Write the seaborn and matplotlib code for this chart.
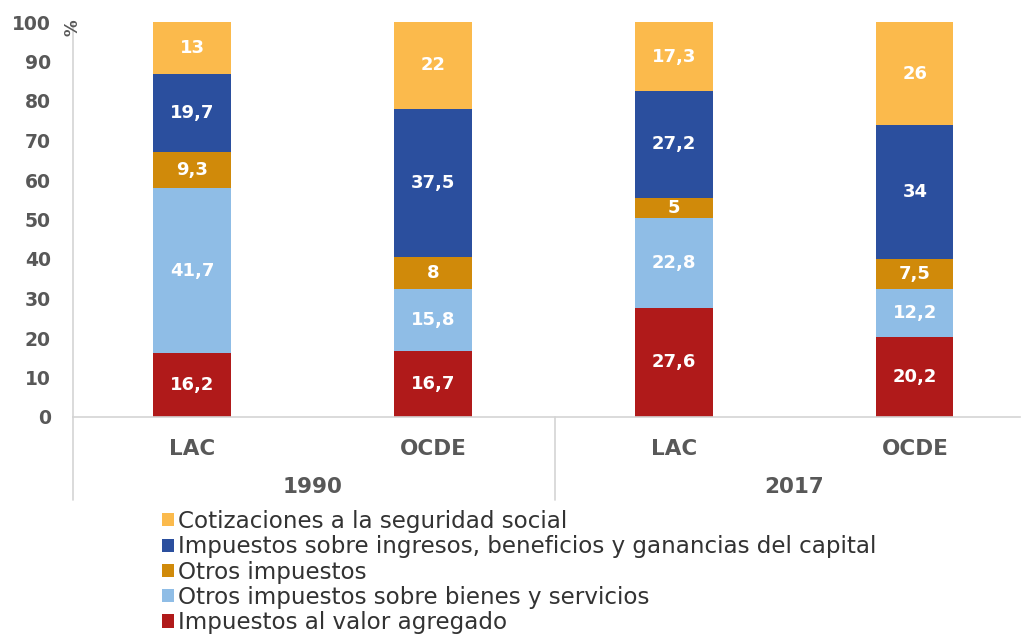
import matplotlib
matplotlib.use("Agg")
import pandas as pd
import matplotlib.pyplot as plt
from matplotlib.patches import Patch
import seaborn as sns

# ── Data ──────────────────────────────────────────────────────────────────────
BARS = ["LAC 1990", "OCDE 1990", "LAC 2017", "OCDE 2017"]
BAR_LABELS = ["LAC", "OCDE", "LAC", "OCDE"]
YEARS = ["1990", "2017"]

# stacked bottom -> top
COMPONENTS = [
    "Impuestos al valor agregado",
    "Otros impuestos sobre bienes y servicios",
    "Otros impuestos",
    "Impuestos sobre ingresos, beneficios y ganancias del capital",
    "Cotizaciones a la seguridad social",
]
IVA = [16.2, 16.7, 27.6, 20.2]
BIENES = [41.7, 15.8, 22.8, 12.2]
OTROS = [9.3, 8.0, 5.0, 7.5]
INGRESOS = [19.7, 37.5, 27.2, 34.0]
COTIZ = [13.0, 22.0, 17.3, 26.0]

COLORS = ["#B01A1A", "#8FBDE6", "#D08A0A", "#2B4F9E", "#FBBA4C"]

# ── Long table with cumulative tops ──────────────────────────────────────────
rows = []
for i, bar in enumerate(BARS):
    bottom = 0.0
    for comp, vals in zip(COMPONENTS, [IVA, BIENES, OTROS, INGRESOS, COTIZ]):
        v = vals[i]
        rows.append({"bar": bar, "comp": comp, "value": v,
                     "bottom": bottom, "top": bottom + v})
        bottom += v
df = pd.DataFrame(rows)

# ── Style ─────────────────────────────────────────────────────────────────────
sns.set_theme(style="white")
plt.rcParams["font.family"] = ["DejaVu Sans"]
GREY = "#585858"
LINE = "#d4d4d4"

fig = plt.figure(figsize=(10.23, 6.36), dpi=100)
ax = fig.add_axes([73 / 1023, 1 - 417 / 636, (1020 - 73) / 1023, (417 - 22) / 636])

# draw cumulative bars from the top layer down so lower layers sit in front
for comp, color in reversed(list(zip(COMPONENTS, COLORS))):
    sub = df[df["comp"] == comp]
    sns.barplot(data=sub, x="bar", y="top", order=BARS, color=color,
                width=0.32, linewidth=0, saturation=1, ax=ax)

# value labels
for _, r in df.iterrows():
    xi = BARS.index(r["bar"])
    txt = f"{r['value']:g}".replace(".", ",")
    ax.text(xi, (r["bottom"] + r["top"]) / 2, txt, ha="center", va="center",
            color="white", fontsize=13, fontweight="bold")

ax.set_xlim(-0.494, 3.436)
ax.set_ylim(0, 100)
ax.set_yticks(range(0, 101, 10))
ax.set_xticks(range(4))
ax.set_xticklabels(BAR_LABELS)
ax.set_xlabel("")
ax.set_ylabel("")
ax.tick_params(axis="both", length=0, colors=GREY)
ax.tick_params(axis="x", pad=15.5, labelsize=15.5)
ax.tick_params(axis="y", pad=16, labelsize=13.5)
for lab in ax.get_xticklabels() + ax.get_yticklabels():
    lab.set_fontweight("bold")

for s in ["top", "right"]:
    ax.spines[s].set_visible(False)
for s in ["left", "bottom"]:
    ax.spines[s].set_color(LINE)
    ax.spines[s].set_linewidth(1.2)

# extended left line and group separator
trans = ax.get_xaxis_transform()
ax.plot([-0.494, -0.494], [0, -0.21], color=LINE, lw=1.2, transform=trans, clip_on=False)
ax.plot([1.506, 1.506], [0, -0.21], color=LINE, lw=1.2, transform=trans, clip_on=False)

for xi, yr in zip([0.5, 2.5], YEARS):
    ax.text(xi, -0.177, yr, transform=trans, ha="center", va="center",
            fontsize=15.5, fontweight="bold", color=GREY)

ax.text(-0.494, 0.985, "%", transform=trans, rotation=90, ha="center",
        va="center", fontsize=12, fontweight="bold", color=GREY)

# legend (top to bottom: reversed stacking)
handles = [Patch(facecolor=c, edgecolor="none") for c in reversed(COLORS)]
labels = list(reversed(COMPONENTS))
fig.legend(handles, labels, loc="upper left", bbox_to_anchor=(162 / 1023, 1 - 510 / 636),
           frameon=False, fontsize=16.6, handlelength=0.5, handleheight=0.5,
           handletextpad=0.2, labelspacing=0.1, borderpad=0, borderaxespad=0,
           labelcolor="#333333")

fig.savefig("out.png", dpi=100)
